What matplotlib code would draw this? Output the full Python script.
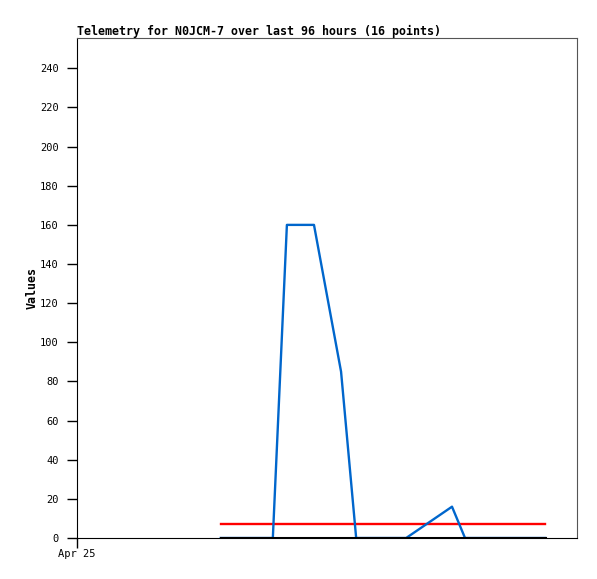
import matplotlib
matplotlib.use("Agg")
import matplotlib.pyplot as plt
import matplotlib.dates as mdates
import pandas as pd

# time offsets (hours after Apr 25 00:00) of the 16 telemetry points
hours = [27.6, 31.0, 34.5, 37.6, 40.3, 43.0, 45.5, 50.7, 53.6, 58.0,
         63.2, 72.0, 74.5, 79.0, 84.0, 89.9]
blue_vals = [0, 0, 0, 0, 160, 160, 160, 85, 0, 0, 0, 16, 0, 0, 0, 0]
red_vals = [7] * 16
black_vals = [0] * 16
yticks = list(range(0, 241, 20))

start = pd.Timestamp("2024-04-25 00:00")
times = [start + pd.Timedelta(hours=h) for h in hours]

plt.rcParams['font.family'] = ['DejaVu Sans Mono']

fig = plt.figure(figsize=(5.97, 5.79), dpi=100)
ax = fig.add_axes([77 / 597, 41 / 579, 500 / 597, 500 / 579])

ax.plot(times, red_vals, color="#ff0000", lw=1.7, zorder=2)
ax.plot(times, blue_vals, color="#0066cc", lw=1.7, zorder=3)
ax.plot(times, black_vals, color="#000000", lw=2.2, zorder=4)

ax.set_xlim(start, start + pd.Timedelta(hours=96))
ax.set_ylim(0, 255.5)
ax.set_yticks(yticks)
ax.set_xticks([start])
ax.xaxis.set_major_formatter(mdates.DateFormatter("%b %d"))

ax.tick_params(axis="both", labelsize=7.5, length=7, width=1, direction="out")
ax.tick_params(axis="y", pad=6)
ax.tick_params(axis="x", pad=1)
for s in ["top", "right"]:
    ax.spines[s].set_color("#555555")
for s in ["left", "bottom"]:
    ax.spines[s].set_color("#000000")

ax.set_title("Telemetry for N0JCM-7 over last 96 hours (16 points)",
             fontsize=8.4, fontweight="bold", loc="left", pad=2)
ax.set_ylabel("Values", fontsize=8.4, fontweight="bold")
ax.yaxis.set_label_coords(-0.076, 0.5)

fig.savefig("out.png", dpi=100)
